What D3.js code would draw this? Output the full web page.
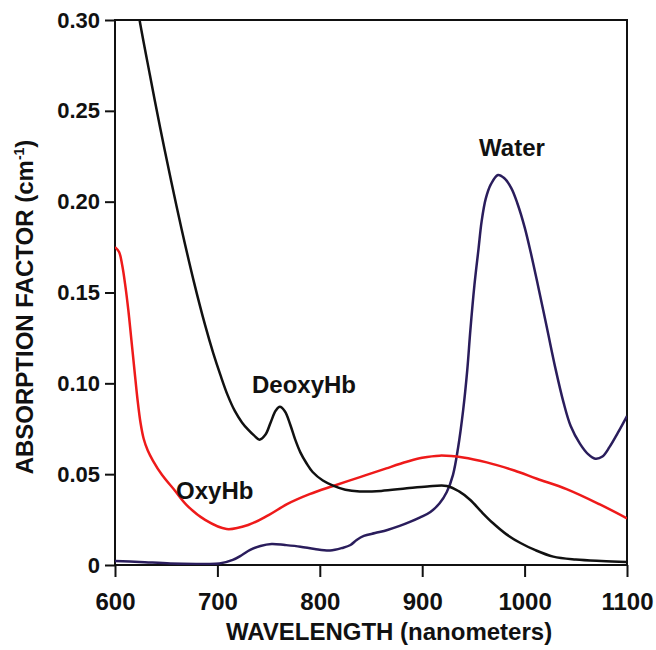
<!DOCTYPE html>
<html>
<head>
<meta charset="utf-8">
<script src="https://cdn.jsdelivr.net/npm/d3@7/dist/d3.min.js"></script>
<style>
  body { margin: 0; background: #fff; }
  svg text { font-family: "Liberation Sans", Arial, Helvetica, sans-serif; font-weight: bold; fill: #111; }
</style>
</head>
<body>
<div id="chart"></div>
<script>
// wavelength (nm) / absorption (cm^-1)
const deoxyNm = [608, 616, 624, 634, 644, 655, 665, 677, 688, 696, 703, 710, 717, 724, 730, 736, 741, 747, 752, 757, 761, 766, 771, 776, 781, 787, 793, 803, 813, 825, 839, 860, 885, 905, 924, 936, 947, 958, 969, 982, 996, 1010, 1028, 1050, 1075, 1100];
const deoxyVal = [0.355, 0.328, 0.300, 0.270, 0.241, 0.211, 0.185, 0.156, 0.132, 0.1165, 0.1045, 0.0935, 0.0848, 0.0785, 0.0745, 0.0712, 0.0690, 0.0718, 0.0785, 0.0850, 0.0871, 0.0845, 0.0775, 0.0690, 0.0620, 0.0560, 0.0512, 0.0465, 0.0437, 0.0414, 0.0405, 0.0408, 0.0422, 0.0432, 0.0435, 0.0405, 0.0358, 0.0292, 0.0231, 0.0170, 0.0121, 0.0083, 0.0046, 0.0030, 0.0022, 0.0017];

const oxyNm = [600, 604, 607, 610, 613, 616, 619, 622, 625, 628, 632, 637, 646, 658, 670, 688, 709, 730, 750, 768, 790, 813, 840, 865, 885, 900, 917, 940, 963, 990, 1012, 1041, 1073, 1100];
const oxyVal = [0.175, 0.1723, 0.1651, 0.1541, 0.1404, 0.1239, 0.1073, 0.0910, 0.0780, 0.0695, 0.0630, 0.0575, 0.0495, 0.0413, 0.0330, 0.0248, 0.0198, 0.0220, 0.0275, 0.0335, 0.0390, 0.0435, 0.0485, 0.0532, 0.0568, 0.0590, 0.0602, 0.0592, 0.0565, 0.0520, 0.0475, 0.0418, 0.0335, 0.0257];

const waterNm = [600, 624, 654, 683, 702, 715, 724, 732, 742, 753, 766, 781, 795, 810, 822, 830, 836, 843, 854, 866, 878, 888, 898, 908, 917, 924, 930, 935, 940, 944, 947, 951, 955, 958, 962, 967, 974, 980, 987, 993, 1000, 1006, 1013, 1022, 1030, 1038, 1045, 1054, 1062, 1069, 1076, 1083, 1091, 1100];
const waterVal = [0.0022, 0.0017, 0.0008, 0.0006, 0.0008, 0.0028, 0.0055, 0.0083, 0.0105, 0.0116, 0.0110, 0.0101, 0.0088, 0.0080, 0.0094, 0.0110, 0.0138, 0.0160, 0.0176, 0.0193, 0.0215, 0.0237, 0.0262, 0.0292, 0.0340, 0.0402, 0.0495, 0.0644, 0.0853, 0.1073, 0.1290, 0.1540, 0.1740, 0.1890, 0.2015, 0.2095, 0.2147, 0.2130, 0.2075, 0.1990, 0.1860, 0.1720, 0.1540, 0.1300, 0.1085, 0.0895, 0.0765, 0.0668, 0.0610, 0.0585, 0.0597, 0.0650, 0.0727, 0.0820];

const xTicks = [600, 700, 800, 900, 1000, 1100];
const yTicks = [0, 0.05, 0.10, 0.15, 0.20, 0.25, 0.30];

// curve names, placed in data units
const labelText = ["Water", "DeoxyHb", "OxyHb"];
const labelNm = [987.7, 733.8, 659.6];
const labelVal = [0.2251, 0.0947, 0.0363];
const labelAnchor = ["middle", "start", "start"];

const width = 656, height = 650;
const margin = { top: 20, right: 29, bottom: 85, left: 115 };

const svg = d3.select("#chart").append("svg")
  .attr("width", width)
  .attr("height", height);

const x = d3.scaleLinear()
  .domain([600, 1100])
  .range([margin.left, width - margin.right]);
const y = d3.scaleLinear()
  .domain([0, 0.30])
  .range([height - margin.bottom, margin.top]);

svg.append("clipPath").attr("id", "plot")
  .append("rect")
  .attr("x", x(600)).attr("y", y(0.30))
  .attr("width", x(1100) - x(600)).attr("height", y(0) - y(0.30));

// y axis
const yAxis = svg.append("g")
  .attr("transform", `translate(${margin.left},0)`)
  .call(d3.axisLeft(y).tickValues(yTicks).tickSize(10).tickPadding(5)
    .tickFormat(d => d === 0 ? "0" : d3.format(".2f")(d)));
yAxis.select(".domain").remove();
yAxis.selectAll("line").attr("stroke", "#111").attr("stroke-width", 2);
yAxis.selectAll("text").style("font-size", "22px").attr("fill", "#111");

// x axis
const xAxis = svg.append("g")
  .attr("transform", `translate(0,${height - margin.bottom})`)
  .call(d3.axisBottom(x).tickValues(xTicks).tickSize(12).tickFormat(d3.format("d")));
xAxis.select(".domain").remove();
xAxis.selectAll("line").attr("stroke", "#111").attr("stroke-width", 2);
xAxis.selectAll("text").style("font-size", "24px").attr("fill", "#111")
  .attr("y", 45).attr("dy", 0);

// frame
svg.append("rect")
  .attr("x", x(600)).attr("y", y(0.30))
  .attr("width", x(1100) - x(600)).attr("height", y(0) - y(0.30))
  .attr("fill", "none")
  .attr("stroke", "#111")
  .attr("stroke-width", 2);

const line = d3.line()
  .x(d => x(d[0]))
  .y(d => y(d[1]))
  .curve(d3.curveCatmullRom.alpha(0.5));

const series = [
  { nm: waterNm, val: waterVal, color: "#2a1d5c" },
  { nm: oxyNm, val: oxyVal, color: "#ee1a1a" },
  { nm: deoxyNm, val: deoxyVal, color: "#111" }
];

svg.append("g").attr("clip-path", "url(#plot)")
  .selectAll("path")
  .data(series)
  .join("path")
  .attr("fill", "none")
  .attr("stroke", d => d.color)
  .attr("stroke-width", 2.5)
  .attr("stroke-linejoin", "round")
  .attr("d", d => line(d3.zip(d.nm, d.val)));

// curve labels
svg.append("g").selectAll("text")
  .data(labelText)
  .join("text")
  .attr("x", (d, i) => x(labelNm[i]))
  .attr("y", (d, i) => y(labelVal[i]))
  .attr("text-anchor", (d, i) => labelAnchor[i])
  .style("font-size", "24px")
  .text(d => d);

// axis titles
svg.append("text")
  .attr("x", 389)
  .attr("y", 640)
  .attr("text-anchor", "middle")
  .style("font-size", "24px")
  .text("WAVELENGTH (nanometers)");

const yTitle = svg.append("text")
  .attr("transform", "translate(33,307) rotate(-90)")
  .attr("text-anchor", "middle")
  .style("font-size", "24px");
yTitle.append("tspan").text("ABSORPTION FACTOR (cm");
yTitle.append("tspan").attr("dy", -9).style("font-size", "14px").text("-1");
yTitle.append("tspan").attr("dy", 9).text(")");
</script>
</body>
</html>
